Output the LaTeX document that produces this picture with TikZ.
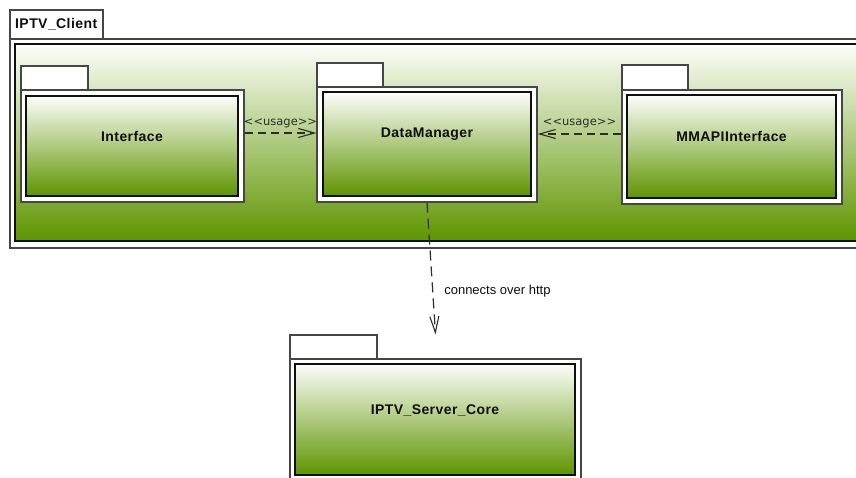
\documentclass[tikz,border=0pt]{standalone}
\usepackage{fontspec}
\setmainfont{Liberation Sans}
\newfontfamily\namefont[LetterSpace=3]{Liberation Sans}
\newfontfamily\stereofont[Ligatures=TeXOff]{DejaVu Sans}
\newfontfamily\notefont{Liberation Sans}
\usetikzlibrary{arrows.meta}

\definecolor{frameline}{RGB}{70,70,70}
\definecolor{innerline}{RGB}{15,15,15}
\definecolor{gradtop}{RGB}{253,254,251}
\definecolor{gradmid}{RGB}{190,214,148}
\definecolor{gradbot}{RGB}{94,148,0}
\definecolor{linkcol}{RGB}{45,45,45}
\definecolor{namecol}{RGB}{15,15,15}

\tikzset{
  pkgtab/.style={draw=frameline, fill=white, line width=1.2pt, rectangle, inner sep=0pt},
  pkgbody/.style={draw=frameline, fill=white, line width=1.2pt, rectangle, inner sep=0pt},
  pkginner/.style={draw=innerline, line width=1.1pt, rectangle, inner sep=0pt,
    top color=gradtop, middle color=gradmid, bottom color=gradbot},
  pkgname/.style={font=\namefont\bfseries\fontsize{14}{16}\selectfont, text=namecol, inner sep=0pt},
  openbarb/.style={-{Straight Barb[length=16pt,width=9pt,line width=1.1pt]}},
  usage/.style={draw=linkcol, line width=1.3pt, dash pattern=on 8pt off 5pt, openbarb},
  httplink/.style={draw=linkcol, line width=1.2pt, dash pattern=on 10pt off 6pt, openbarb},
  stereo/.style={font=\stereofont\fontsize{11.5}{13}\selectfont, text=linkcol, inner sep=0pt},
  note/.style={font=\notefont\fontsize{13}{15}\selectfont, text=namecol, inner sep=0pt},
}

\begin{document}
\begin{tikzpicture}[x=1pt, y=-1pt]
\useasboundingbox (0,0) rectangle (856,477);
\clip (0,0) rectangle (856,477);
\fill[white] (0,0) rectangle (856,477);

% enclosing package IPTV_Client
\node[pkgbody, minimum width=860pt, minimum height=209pt] (client) at (440,143.5) {};
\node[pkgtab, minimum width=93pt, minimum height=29pt] (clienttab) at (56.5,24.5) {};
\node[pkginner, minimum width=850pt, minimum height=197pt] (clientin) at (440,142.5) {};
\node[pkgname, anchor=west] (clientname) at (15,24.5) {IPTV\_Client};

% package Interface
\node[pkgbody, minimum width=223pt, minimum height=112pt] (iface) at (132.5,146) {};
\node[pkgtab, minimum width=67pt, minimum height=24pt] (ifacetab) at (54.5,78) {};
\node[pkginner, minimum width=212pt, minimum height=100pt] (ifacein) at (132,146) {};
\node[pkgname] (ifacename) at (132,136) {Interface};

% package DataManager
\node[pkgbody, minimum width=220pt, minimum height=115pt] (dm) at (427,144.5) {};
\node[pkgtab, minimum width=66pt, minimum height=24pt] (dmtab) at (350,75) {};
\node[pkginner, minimum width=208pt, minimum height=104pt] (dmin) at (427,144) {};
\node[pkgname] (dmname) at (427,134) {DataManager};

% package MMAPIInterface
\node[pkgbody, minimum width=220pt, minimum height=114pt] (mm) at (732,147) {};
\node[pkgtab, minimum width=66pt, minimum height=25pt] (mmtab) at (655,77.5) {};
\node[pkginner, minimum width=209pt, minimum height=103pt] (mmin) at (731.5,146.5) {};
\node[pkgname] (mmname) at (731.5,136) {MMAPIInterface};

% package IPTV_Server_Core
\node[pkgbody, minimum width=291pt, minimum height=122pt] (srv) at (435.5,420) {};
\node[pkgtab, minimum width=87pt, minimum height=24pt] (srvtab) at (333.5,347) {};
\node[pkginner, minimum width=280pt, minimum height=111pt] (srvin) at (435,419.5) {};
\node[pkgname] (srvname) at (435,410.5) {IPTV\_Server\_Core};

% dependencies
\draw[usage] ([yshift=13pt]iface.east) -- ([yshift=11.5pt]dm.west)
  node[stereo, midway, yshift=10pt] (u1) {<<usage>>};
\draw[usage] ([yshift=13pt]mm.west) -- ([yshift=10.5pt]dm.east)
  node[stereo, midway, yshift=10.5pt] (u2) {<<usage>>};
\draw[httplink] (dm.south) -- (srv.north |- srvtab.north)
  node[note, pos=0.67, anchor=west, xshift=11pt] (http) {connects over http};
\end{tikzpicture}
\end{document}
